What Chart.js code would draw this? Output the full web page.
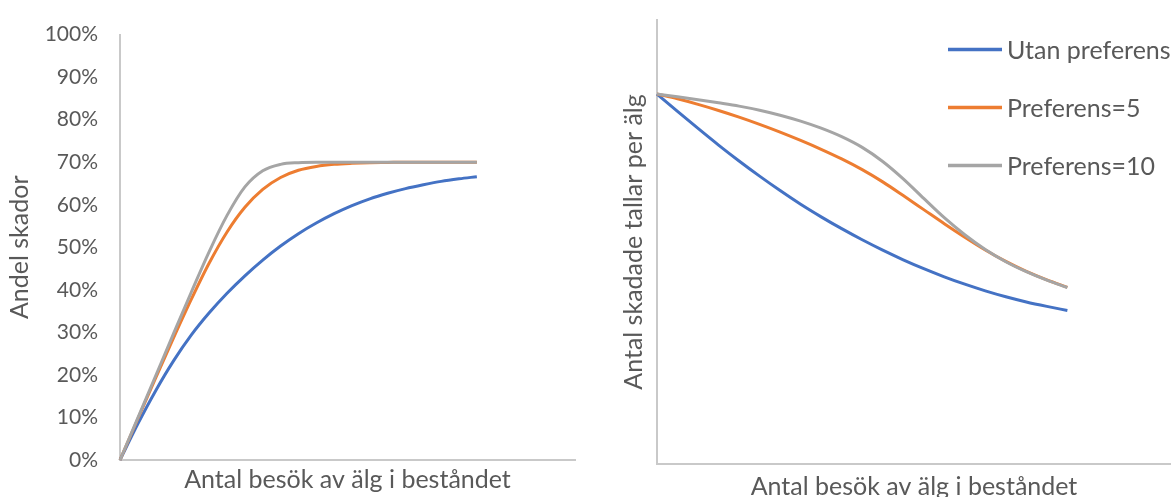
<!DOCTYPE html>
<html>
<head>
<meta charset="utf-8">
<script src="https://cdn.jsdelivr.net/npm/chart.js@4"></script>
<style>
  html, body { margin: 0; padding: 0; background: #fff; }
  #wrap { position: relative; width: 1171px; height: 497px; overflow: hidden; }
  #left { position: absolute; left: 0; top: 0; }
  #right { position: absolute; left: 590px; top: 0; }
</style>
</head>
<body>
<div id="wrap">
  <canvas id="left" width="590" height="497"></canvas>
  <canvas id="right" width="581" height="497"></canvas>
</div>
<script>
// antal besök (no unit shown on the axis)
const visits = [0, 1, 2, 3, 4, 5, 6, 7, 8, 9, 10, 11, 12, 13, 14, 15, 16, 17, 18, 19, 20];

// andel skador, %
const skadorUtan   = [0, 8.5, 16.3, 23.3, 29.4, 34.6, 39.2, 43.3, 47.0, 50.3, 53.2, 55.7, 57.9, 59.8, 61.4, 62.7, 63.8, 64.7, 65.5, 66.1, 66.6];
const skadorPref5  = [0, 9.7, 19.3, 28.7, 37.8, 46.3, 53.6, 59.4, 63.6, 66.4, 68.1, 69.0, 69.5, 69.75, 69.9, 69.95, 70, 70, 70, 70, 70];
const skadorPref10 = [0, 9.9, 19.8, 29.7, 39.5, 49.0, 57.5, 64.2, 68.0, 69.5, 69.9, 70, 70, 70, 70, 70, 70, 70, 70, 70, 70];

// antal skadade tallar per älg (axis has no scale, arbitrary units)
const tallarUtan   = [10, 9.53, 9.07, 8.62, 8.19, 7.78, 7.39, 7.02, 6.68, 6.36, 6.06, 5.78, 5.52, 5.28, 5.06, 4.86, 4.68, 4.52, 4.38, 4.26, 4.15];
const tallarPref5  = [10, 9.87, 9.72, 9.555, 9.375, 9.18, 8.97, 8.745, 8.505, 8.245, 7.955, 7.625, 7.255, 6.875, 6.495, 6.13, 5.785, 5.475, 5.205, 4.975, 4.775];
const tallarPref10 = [10, 9.925, 9.847, 9.762, 9.672, 9.562, 9.427, 9.267, 9.077, 8.847, 8.557, 8.177, 7.707, 7.177, 6.657, 6.197, 5.797, 5.467, 5.197, 4.967, 4.77];

const percentTicks = ['0%', '10%', '20%', '30%', '40%', '50%', '60%', '70%', '80%', '90%', '100%'];
const seriesNames = ['Utan preferens', 'Preferens=5', 'Preferens=10'];
const seriesColors = ['#4472C4', '#ED7D31', '#A5A5A5'];

const FONT = 'Lato';
const textColor = '#595959';
const axisColor = '#c9c9c9';

function makeDatasets(series) {
  return series.map((vals, i) => ({
    label: seriesNames[i],
    data: visits.map((v, j) => ({ x: v, y: vals[j] })),
    borderColor: seriesColors[i],
    borderWidth: 3,
    pointRadius: 0,
    cubicInterpolationMode: 'monotone',
    clip: 4,
    order: 2 - i
  }));
}

const axisTitle = (text, padding) => ({
  display: true, text, color: textColor,
  font: { family: FONT, size: 25 }, padding
});

const legendPlugin = {
  id: 'sideLegend',
  afterDraw(chart) {
    const ctx = chart.ctx;
    ctx.save();
    ctx.font = '25px ' + FONT;
    ctx.fillStyle = textColor;
    ctx.textBaseline = 'middle';
    chart.data.datasets.forEach((ds, i) => {
      const y = 49.5 + 58 * i;
      ctx.strokeStyle = ds.borderColor;
      ctx.lineWidth = 3.5;
      ctx.beginPath();
      ctx.moveTo(358, y);
      ctx.lineTo(412, y);
      ctx.stroke();
      ctx.fillText(ds.label, 417, y + 1);
    });
    ctx.restore();
  }
};

Chart.defaults.font.family = FONT;
Chart.defaults.animation = false;

new Chart(document.getElementById('left'), {
  type: 'line',
  data: { datasets: makeDatasets([skadorUtan, skadorPref5, skadorPref10]) },
  options: {
    responsive: false,
    layout: { padding: { top: 26, right: 15, left: 0, bottom: 0 } },
    plugins: { legend: { display: false }, tooltip: { enabled: false } },
    scales: {
      x: {
        type: 'linear', min: 0, max: 25.5,
        grid: { display: false, drawTicks: false },
        ticks: { display: false },
        border: { display: true, color: axisColor, width: 2 },
        title: axisTitle('Antal besök av älg i beståndet', { top: 0, bottom: 2 }),
        afterFit(s) { s.height = 37; }
      },
      y: {
        min: 0, max: 100,
        grid: { display: false, drawTicks: false },
        border: { display: true, color: axisColor, width: 2 },
        ticks: {
          stepSize: 10, padding: 22, color: textColor,
          font: { family: FONT, size: 21 },
          callback: (v, i) => percentTicks[i]
        },
        title: axisTitle('Andel skador', { top: 5, bottom: 0 }),
        afterFit(s) { s.width = 120; }
      }
    }
  }
});

new Chart(document.getElementById('right'), {
  type: 'line',
  data: { datasets: makeDatasets([tallarUtan, tallarPref5, tallarPref10]) },
  options: {
    responsive: false,
    layout: { padding: { top: 20, right: 0, left: 0, bottom: 0 } },
    plugins: { legend: { display: false }, tooltip: { enabled: false } },
    scales: {
      x: {
        type: 'linear', min: 0, max: 25.05,
        grid: { display: false, drawTicks: false },
        ticks: { display: false },
        border: { display: true, color: axisColor, width: 2 },
        title: axisTitle('Antal besök av älg i beståndet', { top: 0, bottom: -5 }),
        afterFit(s) { s.height = 33; }
      },
      y: {
        min: 0, max: 12,
        grid: { display: false, drawTicks: false },
        border: { display: true, color: axisColor, width: 2 },
        ticks: { display: false },
        title: axisTitle('Antal skadade tallar per älg', { top: 29, bottom: 0 }),
        afterFit(s) { s.width = 67; }
      }
    }
  },
  plugins: [legendPlugin]
});
</script>
</body>
</html>
